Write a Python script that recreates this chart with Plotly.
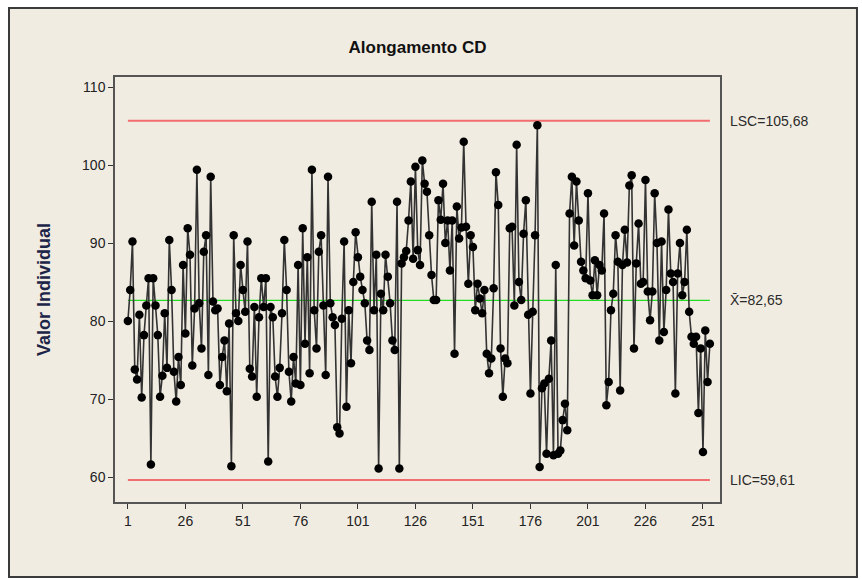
import plotly.graph_objects as go

title_text = "Alongamento CD"
y_title = "Valor Individual"

values = [
    80, 84, 90.2, 73.8, 72.5, 80.8, 70.2, 78.2, 82, 85.5,
    61.6, 85.5, 82, 78.2, 70.3, 73, 81, 74, 90.4, 84,
    73.5, 69.7, 75.4, 71.8, 87.2,
    78.4, 91.9, 88.5, 74.3, 81.6, 99.4, 82.3, 76.5, 88.9, 91,
    73.1, 98.5, 82.5, 81.4, 81.6, 71.8, 75.4, 77.5, 71, 79.7,
    61.4, 91, 81, 80, 87.2,
    84, 81.2, 90.2, 73.9, 72.9, 81.8, 70.3, 80.5, 85.5, 81.8,
    85.5, 62, 81.8, 80.5, 72.9, 70.3, 74, 81, 90.4, 84,
    73.5, 69.7, 75.4, 72, 87.2,
    71.8, 91.9, 77.1, 88.2, 73.3, 99.4, 81.4, 76.5, 88.9, 91,
    82, 73.1, 98.5, 82.3, 80.5, 79.5, 66.4, 65.6, 80.3, 90.2,
    69, 81.4, 74.6, 85, 91.4,
    88.2, 85.7, 84, 82.3, 77.5, 76.3, 95.3, 81.4, 88.5, 61.1,
    83.5, 81.4, 88.5, 85.7, 82.3, 77.5, 76.3, 95.3, 61.1, 87.4,
    88.2, 89, 92.9, 97.9, 88,
    99.8, 89.1, 87.2, 100.6, 97.6, 96.6, 91, 85.9, 82.7, 82.7,
    95.5, 93, 97.6, 90, 92.9, 86.5, 92.9, 75.8, 94.7, 90.6,
    92, 103, 92.1, 84.8, 91,
    89.5, 81.4, 84.8, 82.9, 81, 84, 75.8, 73.3, 75.2, 84.2,
    99.1, 94.9, 76.5, 70.3, 75.2, 74.6, 91.9, 92.1, 82, 102.6,
    85, 82.7, 91.2, 95.5, 80.8,
    70.7, 81.2, 91, 105.1, 61.3, 71.4, 72, 63, 72.6, 77.5,
    62.8, 87.2, 63, 63.4, 67.3, 69.4, 66, 93.8, 98.5, 89.7,
    97.9, 92.9, 87.6, 86.5, 85.5,
    96.4, 85.2, 83.3, 87.8, 83.3, 87.2, 86.5, 93.8, 69.2, 72.2,
    81.4, 83.5, 91, 87.6, 71.1, 87.2, 91.7, 87.5, 97.4, 98.7,
    76.5, 87.4, 92.5, 84.8, 85,
    98.1, 83.8, 80.1, 83.8, 96.4, 90, 77.5, 90.2, 78.6, 84,
    94.3, 86.1, 85, 70.7, 86.1, 90, 83.3, 85, 91.7, 81.2,
    78, 77.1, 78, 68.2, 76.5, 63.2, 78.8, 72.2, 77.1,
]
obs = list(range(1, len(values) + 1))

x_ticks = [1, 26, 51, 76, 101, 126, 151, 176, 201, 226, 251]
y_ticks = [60, 70, 80, 90, 100, 110]

lsc = 105.68
center = 82.65
lic = 59.61
lsc_label = "LSC=105,68"
center_label = "X\u0304=82,65"
lic_label = "LIC=59,61"

fig = go.Figure()

x_span = [obs[0], obs[-1]]
fig.add_trace(go.Scatter(x=x_span, y=[lsc, lsc], mode="lines",
                         line=dict(color="#f26d6d", width=2), hoverinfo="skip"))
fig.add_trace(go.Scatter(x=x_span, y=[lic, lic], mode="lines",
                         line=dict(color="#f26d6d", width=2), hoverinfo="skip"))
fig.add_trace(go.Scatter(x=x_span, y=[center, center], mode="lines",
                         line=dict(color="#22dd22", width=1.2), hoverinfo="skip"))

fig.add_trace(go.Scatter(
    x=obs, y=values, mode="lines+markers",
    line=dict(color="#333333", width=1.6),
    marker=dict(color="black", size=8.5, symbol="circle"),
))

font_main = "Liberation Sans, Arial, sans-serif"

# beige panel with frame
fig.add_shape(type="rect", xref="paper", yref="paper",
              x0=-0.1752, x1=1.2264, y0=-0.1765, y1=1.1624,
              fillcolor="#f1ece1", line=dict(color="#3a3a3a", width=2),
              layer="below")

for lbl, yv in [(lsc_label, lsc), (center_label, center), (lic_label, lic)]:
    fig.add_annotation(x=1.013, xref="paper", y=yv, yref="y", text=lbl,
                       showarrow=False, xanchor="left", yanchor="middle",
                       font=dict(family=font_main, size=14, color="#2a2a2a"))

fig.add_annotation(x=-0.118, xref="paper", y=0.5, yref="paper", text="<b>" + y_title + "</b>",
                   textangle=-90, showarrow=False, xanchor="center", yanchor="middle",
                   font=dict(family=font_main, size=18, color="#1c2448"))

fig.update_layout(
    width=862, height=580,
    margin=dict(l=115, r=142, t=77, b=78),
    paper_bgcolor="white",
    plot_bgcolor="white",
    showlegend=False,
    title=dict(text="<b>" + title_text + "</b>", x=0.5 * (115 + 720) / 862, xanchor="center",
               y=1 - 47 / 580, yanchor="middle", yref="container",
               font=dict(family=font_main, size=17, color="#111111")),
    xaxis=dict(range=[-4.6, 258.4], tickmode="array", tickvals=x_ticks,
               ticktext=[str(t) for t in x_ticks], showgrid=False, zeroline=False,
               showline=True, mirror=True, linecolor="#555555", linewidth=1.5,
               ticks="outside", ticklen=5, tickcolor="#333333",
               tickfont=dict(family=font_main, size=14, color="#222222")),
    yaxis=dict(range=[56.8, 111.3], tickmode="array", tickvals=y_ticks,
               showgrid=False, zeroline=False,
               showline=True, mirror=True, linecolor="#555555", linewidth=1.5,
               ticks="outside", ticklen=5, tickcolor="#333333",
               tickfont=dict(family=font_main, size=14, color="#222222")),
)

fig.write_html("out.html")
